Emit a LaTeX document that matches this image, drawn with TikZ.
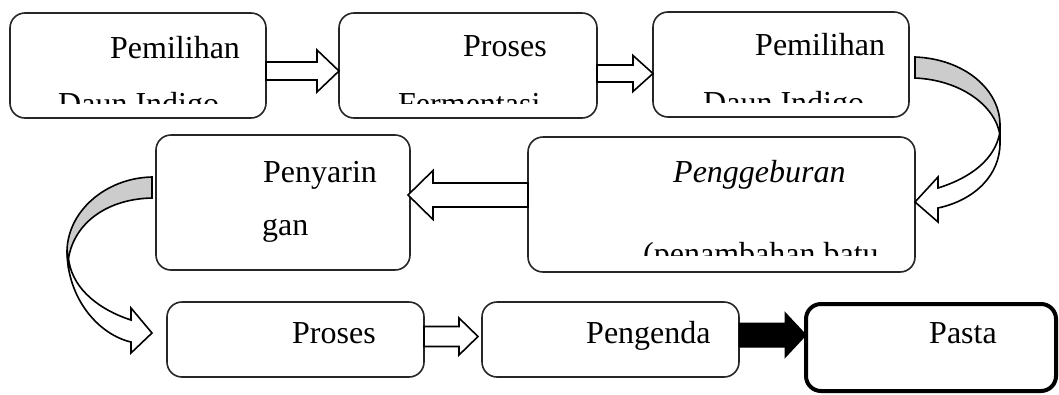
\documentclass[tikz,border=0pt]{standalone}
\usepackage{fontspec}
\setmainfont{Liberation Serif}
\usetikzlibrary{calc}
\tikzset{
    kotak/.style = {draw=black!85, line width=1.6pt, rounded corners=15pt, inner sep=0pt, outer sep=0pt},
    kotaktebal/.style = {kotak, draw=black, line width=4pt},
    teks/.style = {anchor=base west, inner sep=0pt, font=\fontsize{32pt}{38pt}\selectfont},
    panah/.style = {draw=black, fill=white, line width=1.6pt, line join=miter},
    panahhitam/.style = {draw=black, fill=black, line width=1pt},
    lengkung/.style = {draw=black, fill=black!20, line width=1.6pt, line join=miter}
}
% block arrow: [style]{from}{to}{shaft half}{head half}{head length}
\newcommand{\blokpanah}[6][panah]{%
    \path ($(#3)!#6!(#2)$) coordinate (pangkal);
    \draw[#1] ($(#2)!#4!90:(#3)$) -- ($(pangkal)!#4!90:(#3)$) -- ($(pangkal)!#5!90:(#3)$) -- (#3)
        -- ($(pangkal)!#5!-90:(#3)$) -- ($(pangkal)!#4!-90:(#3)$) -- ($(#2)!#4!-90:(#3)$) -- cycle;
}

\begin{document}
\begin{tikzpicture}[x=1pt, y=-1pt]
    \useasboundingbox (0,0) rectangle (1059,394);

    % boxes
    \node[kotak, minimum width=256pt, minimum height=105pt] (pilih1) at (138,65.5) {};
    \node[kotak, minimum width=258pt, minimum height=105pt] (fermentasi) at (468,65.5) {};
    \node[kotak, minimum width=256pt, minimum height=105pt] (pilih2) at (781,64.5) {};
    \node[kotak, minimum width=254pt, minimum height=135pt] (penyaringan) at (283,202.5) {};
    \node[kotak, minimum width=387pt, minimum height=135pt] (penggeburan) at (721.5,204.5) {};
    \node[kotak, minimum width=257pt, minimum height=75pt] (proses) at (295.5,339.5) {};
    \node[kotak, minimum width=257pt, minimum height=75pt] (pengendapan) at (610.5,339.5) {};
    \node[kotaktebal, minimum width=250pt, minimum height=87pt] (pasta) at (931,347.5) {};

    % texts
    \node[teks] (tpilih1) at (110,58) {Pemilihan};
    \node[teks] (tproses1) at (463,56) {Proses};
    \node[teks] (tpilih2) at (755,55) {Pemilihan};
    \node[teks] (tpenyarin) at (263,182) {Penyarin};
    \node[teks] (tgan) at (262,235) {gan};
    \node[teks] (tgebur) at (673,182) {\itshape Penggeburan};
    \node[teks] (tproses2) at (292,343) {Proses};
    \node[teks] (tendap) at (586,343) {Pengenda};
    \node[teks] (tpasta) at (929,343) {Pasta};
    \begin{scope}
        \clip (pilih1.north west) rectangle ($(pilih1.south east)+(0,-15)$);
        \node[teks] (tdaun1) at (58,114) {Daun Indigo};
    \end{scope}
    \begin{scope}
        \clip (fermentasi.north west) rectangle ($(fermentasi.south east)+(0,-15)$);
        \node[teks] (tferm) at (398,114) {Fermentasi};
    \end{scope}
    \begin{scope}
        \clip (pilih2.north west) rectangle ($(pilih2.south east)+(0,-15)$);
        \node[teks] (tdaun2) at (703,113) {Daun Indigo};
    \end{scope}
    \begin{scope}
        \clip (penggeburan.north west) rectangle ($(penggeburan.south east)+(0,-17)$);
        \node[teks] (tbatu) at (643,264) {(penambahan batu};
    \end{scope}

    % straight arrows
    \coordinate (a1) at ($(pilih1.east)+(0,5.5)$);
    \coordinate (b1) at ($(fermentasi.west)+(0,5.5)$);
    \blokpanah{a1}{b1}{9pt}{21pt}{22pt}
    \coordinate (a2) at ($(fermentasi.east)+(0,8)$);
    \coordinate (b2) at ($(pilih2.west)+(0,9)$);
    \blokpanah{a2}{b2}{8.5pt}{18pt}{20pt}
    \coordinate (a3) at ($(penggeburan.west)+(0,-9.5)$);
    \coordinate (b3) at ($(penyaringan.east)+(-2,-7.5)$);
    \blokpanah{a3}{b3}{12pt}{24.5pt}{25pt}
    \coordinate (a4) at ($(proses.east)+(0,-3)$);
    \coordinate (b4) at ($(pengendapan.west)+(-4,-3)$);
    \blokpanah{a4}{b4}{10pt}{18.5pt}{19pt}
    \coordinate (a5) at ($(pengendapan.east)+(0,-4.5)$);
    \coordinate (b5) at ($(pasta.west)+(0,-12.5)$);
    \blokpanah[panahhitam]{a5}{b5}{12pt}{22.5pt}{21pt}

    % curved arrows
    \draw[lengkung] (915,57) .. controls (965,59) and (1000,90) .. (1000,125) -- (1000,135)
        .. controls (995,105) and (960,80) .. (915,78) -- cycle;
    \draw[panah] (1000,128) -- (1000,143) .. controls (1000,175) and (975,200) .. (938,208)
        -- (938,222) -- (915,202) -- (938,177) -- (938,188)
        .. controls (970,178) and (995,160) .. (1000,132) -- cycle;
    \draw[lengkung] (152,177) .. controls (105,178) and (67,212) .. (67,252) -- (68,262)
        .. controls (72,225) and (105,199) .. (152,198) -- cycle;
    \draw[panah] (67,250) .. controls (67,300) and (100,335) .. (131,342)
        -- (131,353) -- (152,333) -- (131,308) -- (131,320)
        .. controls (100,310) and (74,290) .. (69,262) -- cycle;
\end{tikzpicture}
\end{document}
